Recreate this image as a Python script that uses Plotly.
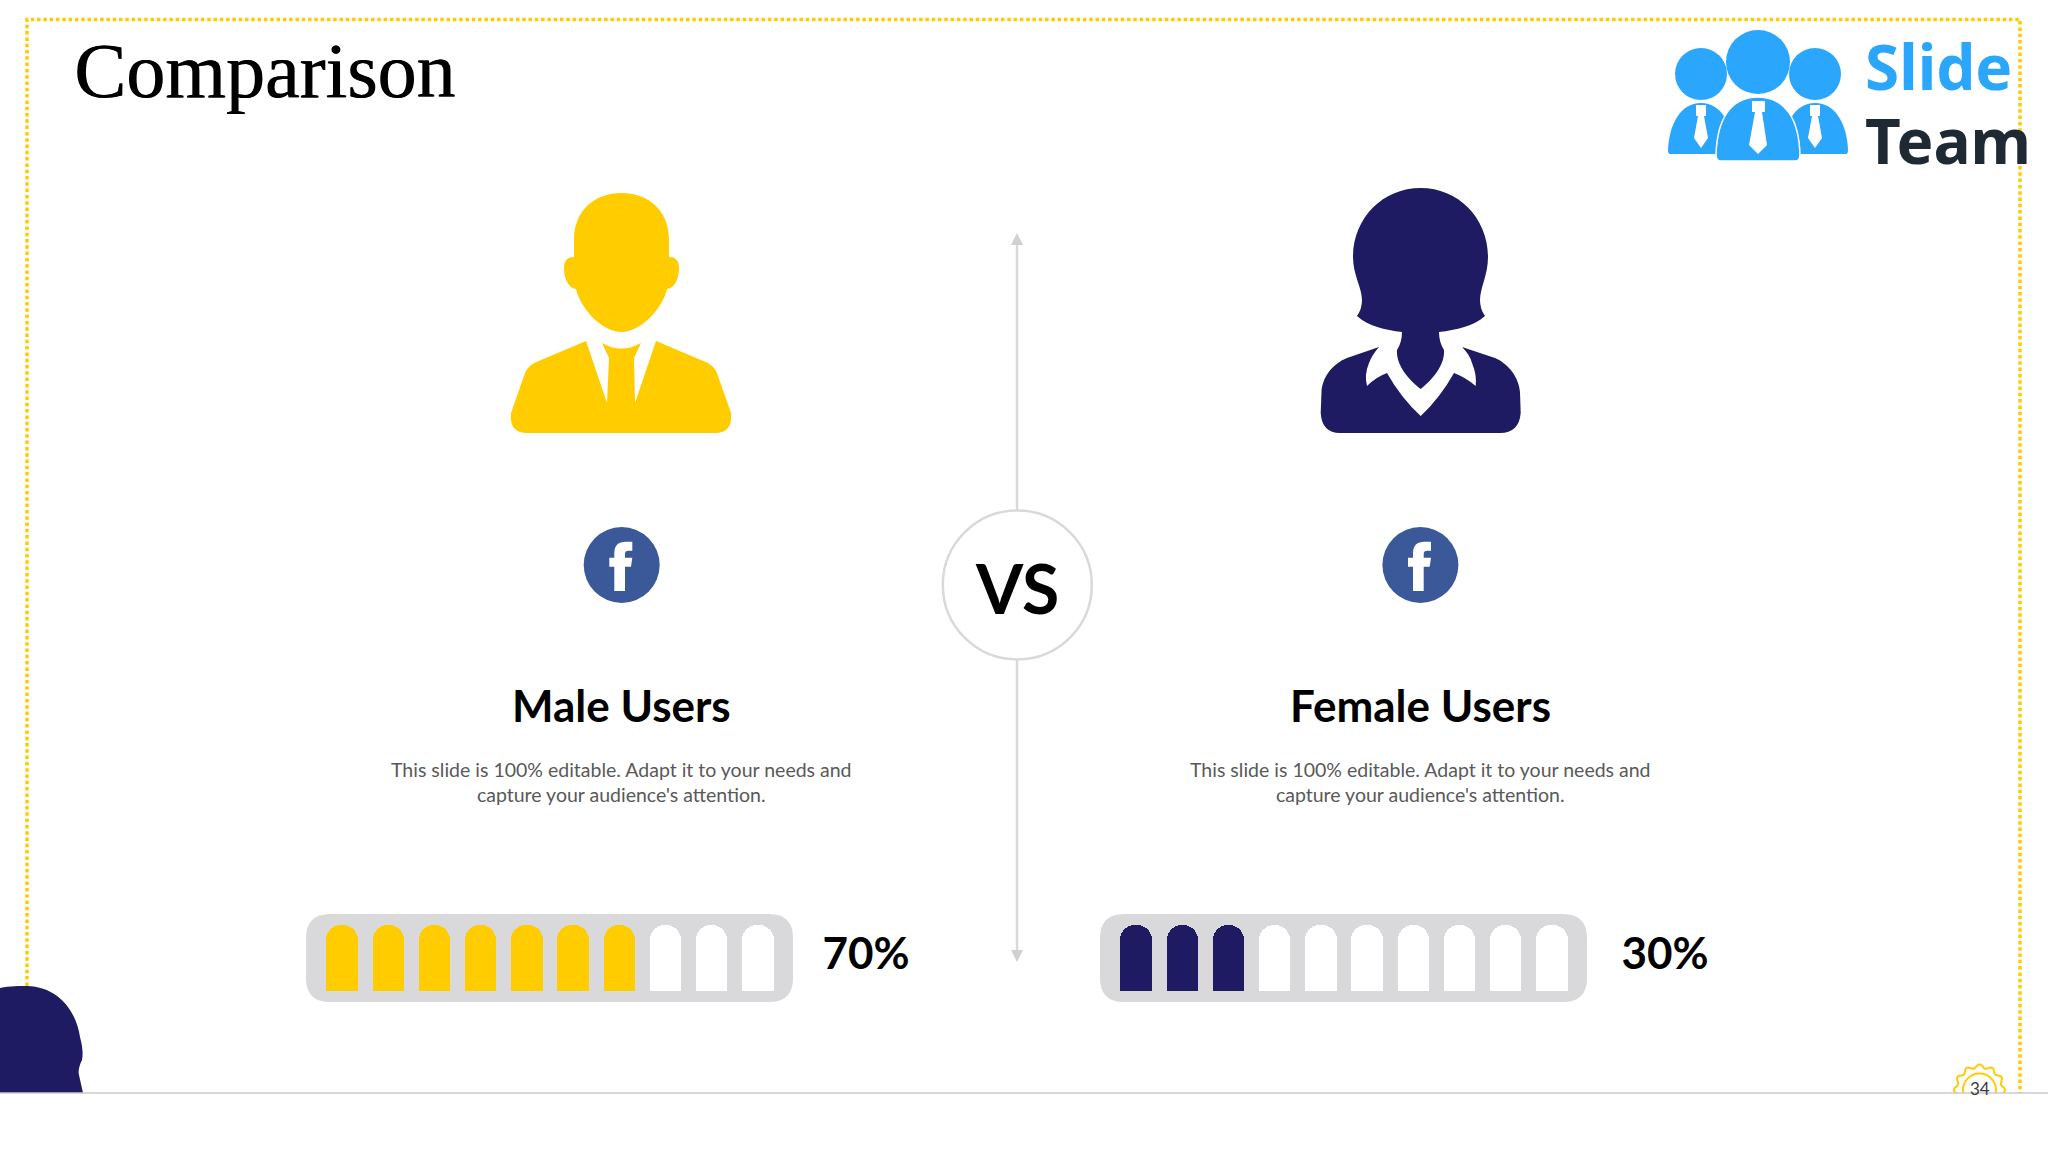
import math
import plotly.graph_objects as go

# Reading the data
groups = ['Male Users', 'Female Users']
shares = [70, 30]
share_labels = ['70%', '30%']
segments = [1, 2, 3, 4, 5, 6, 7, 8, 9, 10]
description = "This slide is 100% editable. Adapt it to your needs and<br>capture your audience's attention."
page_number = '34'

YELLOW = '#FFCC00'
NAVY = '#1E1B62'
GREY = '#D9D9DB'
FB = '#3B5998'
LOGO = '#2AA6FC'
W, H = 2048, 1152
FONT = 'Lato'

shapes = []


def path(d, fill=None, line=None, width=0, dash=None):
    line_dict = dict(color=line or 'rgba(0,0,0,0)', width=width)
    if dash:
        line_dict['dash'] = dash
    shapes.append(dict(type='path', xref='x', yref='y', path=d, fillcolor=fill or 'rgba(0,0,0,0)',
                       line=line_dict, layer='below'))


def circle(cx, cy, r, fill=None, line=None, width=0):
    shapes.append(dict(type='circle', xref='x', yref='y', x0=cx - r, x1=cx + r, y0=cy - r, y1=cy + r,
                       fillcolor=fill or 'rgba(0,0,0,0)', line=dict(color=line or 'rgba(0,0,0,0)', width=width),
                       layer='below'))


def rounded(x0, y0, x1, y1, r):
    return (f'M{x0 + r},{y0} L{x1 - r},{y0} Q{x1},{y0} {x1},{y0 + r} L{x1},{y1 - r} Q{x1},{y1} {x1 - r},{y1} '
            f'L{x0 + r},{y1} Q{x0},{y1} {x0},{y1 - r} L{x0},{y0 + r} Q{x0},{y0} {x0 + r},{y0} Z')


# Dotted frame
path('M27,1093 L27,19.5 L2020,19.5 L2020,1093', line=YELLOW, width=3.5, dash='3.5px,2.8px')

# Corner blob, bottom left
path('M0,988 C10,986 20,986 27,986 C58,987 76,1010 80,1037 C83,1048 83,1055 82,1060 C79,1066 78,1072 79,1075 '
     'L83,1093 L0,1093 Z', fill=NAVY)

# Page badge
pts = []
for i in range(0, 121):
    a = 2 * math.pi * i / 120
    r = 23.8 + 1.8 * math.cos(12 * a)
    pts.append(f'{1979.5 + r * math.sin(a):.1f},{1090 - r * math.cos(a):.1f}')
path('M' + ' L'.join(pts) + ' Z', line=YELLOW, width=2)
circle(1979.5, 1090, 16.5, line=YELLOW, width=2)
shapes.append(dict(type='rect', xref='x', yref='y', x0=0, x1=W, y0=1093, y1=H, fillcolor='white',
                   line=dict(width=0), layer='below'))
shapes.append(dict(type='line', xref='x', yref='y', x0=0, x1=W, y0=1093, y1=1093,
                   line=dict(color='#CBCBCB', width=1.5), layer='below'))

# Logo
for cx, cy, r in [(1701, 74, 26), (1815, 74, 26), (1758, 62, 32)]:
    circle(cx, cy, r, fill=LOGO)
path('M1668,150 C1669,125 1680,103 1701,103 C1722,103 1733,125 1734,154 L1670,154 Q1668,154 1668,150 Z', fill=LOGO)
path('M1848,150 C1847,125 1836,103 1815,103 C1794,103 1783,125 1782,154 L1846,154 Q1848,154 1848,150 Z', fill=LOGO)
path('M1716,155 C1717,120 1730,97 1758,97 C1786,97 1799,120 1800,155 Q1800,161 1795,161 L1721,161 Q1716,161 1716,155 Z',
     fill=LOGO, line='white', width=1.5)
path('M1752,101 L1765,101 L1765,112 L1762,112 L1767,145 L1758,154 L1749,145 L1755,112 L1752,112 Z', fill='white')
for tx in [1701, 1815]:
    path(f'M{tx - 5},105 L{tx + 5},105 L{tx + 5},116 L{tx + 3},116 L{tx + 7},138 L{tx},148 L{tx - 7},138 '
         f'L{tx - 3},116 L{tx - 5},116 Z', fill='white')

# Man
path('M574,240 C574,210 595,193 621.5,193 C648,193 669,210 669,240 L669,257 C675,257 679,260 679,268 '
     'C679,278 675,288 667,289 C662,310 640,332 621.5,332 C603,332 581,310 576,289 C568,288 564,278 564,268 '
     'C564,260 568,257 574,257 Z', fill=YELLOW)
path('M586,341 L607,403 L609,358 L602,343 Q621,354 641,343 L634,358 L635,403 L656,341 L708,363 Q716,368 718,376 '
     'L731,413 Q733,433 715,433 L527,433 Q509,433 511,413 L524,376 Q526,368 534,363 Z', fill=YELLOW)

# Woman
path('M1420.7,188 C1383,188 1353,218 1353,257 C1353,275 1362,288 1362,300 Q1362,309 1357,316 C1368,326 1385,330 1402,332 '
     'Q1402,342 1397,350 C1396,365 1408,379 1420.7,389 C1433,379 1445,365 1444,350 Q1439,342 1439,332 '
     'C1456,330 1474,326 1485,316 Q1480,309 1480,300 C1480,288 1488,275 1488,257 C1488,218 1458,188 1420.7,188 Z', fill=NAVY)
path('M1379,347 L1347,358 C1332,364 1322,378 1321.5,392 L1320.7,413 Q1322,433 1340,433 L1500,433 Q1519,433 1520.7,413 '
     'L1520,392 C1519,378 1509,364 1495,358 L1462,347 Q1470,355 1472,363 Q1477,375 1475.7,386 Q1465,377 1454,373 '
     'Q1440,398 1420.7,416 Q1401,398 1387,373 Q1376,377 1367,386 Q1364,375 1369,363 Q1372,355 1379,347 Z', fill=NAVY)

# Centre axis with the two arrow heads
path('M1017,243 L1017,510 M1017,660 L1017,952', line=GREY, width=2.5)
path('M1017,233 L1023,245 L1011,245 Z', fill='#D0D0D3')
path('M1017,962 L1023,950 L1011,950 Z', fill='#D0D0D3')
circle(1017.3, 585, 74.5, fill='white', line=GREY, width=2.5)

# Facebook icons
for dx in [0, 798.7]:
    circle(621.7 + dx, 565, 38, fill=FB)
    path(f'M{614.3 + dx},591 L{625 + dx},591 L{625 + dx},566.7 L{631 + dx},566.7 L{632.3 + dx},557.7 L{625 + dx},557.7 '
         f'L{625 + dx},554 Q{625 + dx},550.7 {628.5 + dx},550.7 L{632.3 + dx},550.7 L{632.3 + dx},541.7 L{626 + dx},541.7 '
         f'Q{614.3 + dx},541.7 {614.3 + dx},553 L{614.3 + dx},557.7 L{609.3 + dx},557.7 L{609.3 + dx},566.7 '
         f'L{614.3 + dx},566.7 Z', fill='white')

# Progress bar backgrounds
path(rounded(306, 914, 793, 1002, 24), fill=GREY)
path(rounded(1100, 914, 1587, 1002, 24), fill=GREY)

fig = go.Figure()

# percentages next to the bars
fig.add_trace(go.Scatter(x=[866, 1665], y=[958, 958], mode='text', text=share_labels, xaxis='x', yaxis='y',
                         textposition='middle center', hoverinfo='skip',
                         textfont=dict(family=FONT, size=44, color='black', weight='bold')))

# one bar per segment, filled up to the share
fig.add_trace(go.Bar(x=segments, y=[1] * len(segments), xaxis='x2', yaxis='y2', width=0.68,
                     marker=dict(color=[YELLOW if s * 10 <= shares[0] else 'white' for s in segments],
                                 cornerradius=15, line=dict(width=0))))
fig.add_trace(go.Bar(x=segments, y=[1] * len(segments), xaxis='x3', yaxis='y3', width=0.68,
                     marker=dict(color=[NAVY if s * 10 <= shares[1] else 'white' for s in segments],
                                 cornerradius=15, line=dict(width=0))))

annotations = [
    dict(x=72, y=70, text='Comparison', xanchor='left',
         font=dict(family='Liberation Serif', size=78, color='black', shadow='0.7px 0 0 #000')),
    dict(x=1863, y=66, text='Slide', xanchor='left', font=dict(family='Noto Sans', size=62, color=LOGO, weight='bold')),
    dict(x=1863, y=140, text='Team', xanchor='left', font=dict(family='Noto Sans', size=62, color='#1F2933', weight='bold')),
    dict(x=1017, y=587, text='VS', font=dict(family=FONT, size=68, color='black', weight='bold')),
    dict(x=621.5, y=705, text=groups[0], font=dict(family=FONT, size=44, color='black', weight='bold')),
    dict(x=1420.5, y=705, text=groups[1], font=dict(family=FONT, size=44, color='black', weight='bold')),
    dict(x=621.5, y=782, text=description, font=dict(family=FONT, size=19.5, color='#595959')),
    dict(x=1420.5, y=782, text=description, font=dict(family=FONT, size=19.5, color='#595959')),
    dict(x=1980, y=1088, text=page_number, font=dict(family=FONT, size=17, color='#3A3A3A')),
]
for a in annotations:
    a.update(xref='x', yref='y', showarrow=False)

hidden = dict(visible=False, fixedrange=True)
fig.update_layout(
    width=W, height=H, margin=dict(l=0, r=0, t=0, b=0), showlegend=False, bargap=0,
    paper_bgcolor='white', plot_bgcolor='rgba(0,0,0,0)', shapes=shapes, annotations=annotations,
    xaxis=dict(range=[0, W], domain=[0, 1], **hidden),
    yaxis=dict(range=[H, 0], domain=[0, 1], **hidden),
    xaxis2=dict(range=[0.22, 10.76], domain=[306 / W, 793 / W], anchor='y2', **hidden),
    yaxis2=dict(range=[0, 1], domain=[1 - 991 / H, 1 - 925 / H], anchor='x2', **hidden),
    xaxis3=dict(range=[0.22, 10.76], domain=[1100 / W, 1587 / W], anchor='y3', **hidden),
    yaxis3=dict(range=[0, 1], domain=[1 - 991 / H, 1 - 925 / H], anchor='x3', **hidden),
)

fig.write_html("out.html", config=dict(displayModeBar=False),
               post_script="document.body.style.margin='0';document.body.style.overflow='hidden';")
